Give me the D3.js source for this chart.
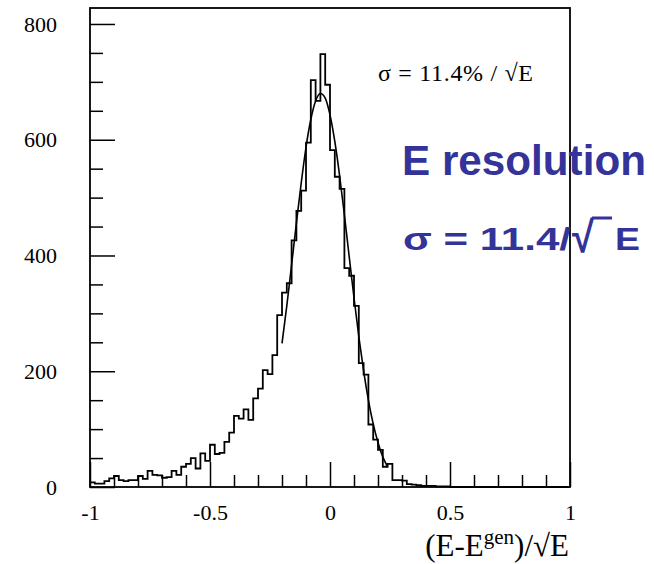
<!DOCTYPE html>
<html>
<head>
<meta charset="utf-8">
<script src="https://cdn.jsdelivr.net/npm/d3@7"></script>
<style>
  html, body { margin: 0; padding: 0; background: #fff; }
  svg { display: block; }
</style>
</head>
<body>
<div id="chart"></div>
<script>
// ---- data ----
const binStart = -1.0;
const binWidth = 0.02;
const counts = [
  8, 6, 6, 10, 15, 19, 12, 10, 12, 12,
  19, 14, 28, 21, 20, 16, 17, 28, 21, 35,
  40, 50, 32, 58, 45, 73, 57, 59, 78, 94,
  123, 118, 134, 116, 153, 170, 202, 195, 228, 297,
  336, 352, 426, 477, 512, 595, 703, 667, 748, 695,
  582, 536, 515, 378, 365, 313, 214, 194, 108, 82,
  64, 35, 40, 12, 12, 11, 5, 4, 3, 2,
  2, 2, 1, 1, 1, 0, 0, 0, 0, 0,
  0, 0, 0, 0, 0, 0, 0, 0, 0, 0,
  0, 0, 0, 0, 0, 0, 0, 0, 0, 0
];
// fitted curve
const fitX = [-0.20, -0.18, -0.16, -0.14, -0.12, -0.10, -0.08, -0.06, -0.04, -0.02,
              0.00, 0.02, 0.04, 0.06, 0.08, 0.10, 0.12, 0.14, 0.16, 0.18, 0.20, 0.22, 0.24];
const fitY = [248, 313, 384, 456, 525, 587, 635, 667, 680, 672,
              643, 597, 538, 470, 398, 327, 260, 201, 150, 109, 77, 52, 35];
const xMajorTicks = [-1, -0.5, 0, 0.5, 1];
const xMajorLabels = ["-1", "-0.5", "0", "0.5", "1"];
const xMinorTicks = [-0.9, -0.8, -0.7, -0.6, -0.4, -0.3, -0.2, -0.1, 0.1, 0.2, 0.3, 0.4, 0.6, 0.7, 0.8, 0.9];
const yMajorTicks = [0, 200, 400, 600, 800];
const yMajorLabels = ["0", "200", "400", "600", "800"];
const yMinorTicks = [50, 100, 150, 250, 300, 350, 450, 500, 550, 650, 700, 750];
const xDomain = [-1, 1];
const yDomain = [0, 827.6];

// ---- layout ----
const W = 654, H = 564;
const pLeft = 90, pRight = 570, pTop = 8, pBottom = 487;
const svg = d3.select("#chart").append("svg").attr("width", W).attr("height", H);

const x = d3.scaleLinear().domain(xDomain).range([pLeft, pRight]);
const y = d3.scaleLinear().domain(yDomain).range([pBottom, pTop]);

const serif = "'Liberation Serif', 'Times New Roman', serif";
const sans = "'Liberation Sans', Arial, sans-serif";

// histogram step path
const stepPts = [];
counts.forEach((c, i) => {
  const x0 = binStart + i * binWidth, x1 = x0 + binWidth;
  stepPts.push([x0, c], [x1, c]);
});
stepPts.push([binStart + counts.length * binWidth, 0]);
svg.append("path")
  .datum(stepPts)
  .attr("d", d3.line().x(d => x(d[0])).y(d => y(d[1])))
  .attr("fill", "none").attr("stroke", "#000").attr("stroke-width", 1.8)
  .attr("stroke-linejoin", "miter");

// fit curve
const fitPts = fitX.map((v, i) => [v, fitY[i]]);
svg.append("path")
  .datum(fitPts)
  .attr("d", d3.line().x(d => x(d[0])).y(d => y(d[1])).curve(d3.curveMonotoneX))
  .attr("fill", "none").attr("stroke", "#000").attr("stroke-width", 1.6);

// axes
const gx = svg.append("g").attr("transform", `translate(0,${pBottom})`)
  .call(d3.axisBottom(x).tickValues(xMajorTicks).tickSize(-25).tickPadding(17)
        .tickFormat((d, i) => xMajorLabels[i]));
const gxm = svg.append("g").attr("transform", `translate(0,${pBottom})`)
  .call(d3.axisBottom(x).tickValues(xMinorTicks).tickSize(-12).tickFormat(""));
const gy = svg.append("g").attr("transform", `translate(${pLeft},0)`)
  .call(d3.axisLeft(y).tickValues(yMajorTicks).tickSize(-25).tickPadding(33)
        .tickFormat((d, i) => yMajorLabels[i]));
const gym = svg.append("g").attr("transform", `translate(${pLeft},0)`)
  .call(d3.axisLeft(y).tickValues(yMinorTicks).tickSize(-13).tickFormat(""));
[gx, gxm, gy, gym].forEach(g => {
  g.select(".domain").remove();
  g.selectAll(".tick line").attr("stroke", "#000").attr("stroke-width", 1.5);
  g.selectAll("text").attr("font-family", serif).attr("font-size", 22).attr("fill", "#000");
});

// frame
svg.append("rect").attr("x", pLeft).attr("y", pTop)
  .attr("width", pRight - pLeft).attr("height", pBottom - pTop)
  .attr("fill", "none").attr("stroke", "#000").attr("stroke-width", 1.8);

// x-axis title
const xt = svg.append("text").attr("x", 569).attr("y", 556)
  .attr("text-anchor", "end").attr("font-family", serif).attr("font-size", 31).attr("fill", "#000");
xt.append("tspan").text("(E-E");
xt.append("tspan").attr("font-size", 21).attr("dy", -12).text("gen");
xt.append("tspan").attr("dy", 12).text(")/\u221AE");

// annotation
svg.append("text").attr("x", 378).attr("y", 81)
  .attr("font-family", serif).attr("font-size", 24).attr("fill", "#000")
  .attr("textLength", 155).attr("lengthAdjust", "spacing")
  .text("\u03C3 = 11.4% / \u221AE");

// big blue labels
const blue = "#333399";
svg.append("text").attr("x", 402).attr("y", 175)
  .attr("font-family", sans).attr("font-weight", "bold").attr("font-size", 42)
  .attr("fill", blue).attr("textLength", 244).attr("lengthAdjust", "spacingAndGlyphs")
  .text("E resolution");
svg.append("text").attr("x", 403).attr("y", 250)
  .attr("font-family", sans).attr("font-weight", "bold").attr("font-size", 31)
  .attr("fill", blue).attr("textLength", 168).attr("lengthAdjust", "spacingAndGlyphs")
  .text("\u03C3 = 11.4/");
svg.append("text").attr("x", 572).attr("y", 252)
  .attr("font-family", sans).attr("font-weight", "bold").attr("font-size", 44)
  .attr("fill", blue).attr("textLength", 22).attr("lengthAdjust", "spacingAndGlyphs")
  .text("\u221A");
svg.append("line").attr("x1", 592).attr("x2", 612).attr("y1", 218).attr("y2", 218)
  .attr("stroke", blue).attr("stroke-width", 3);
svg.append("text").attr("x", 615).attr("y", 250)
  .attr("font-family", sans).attr("font-weight", "bold").attr("font-size", 31)
  .attr("fill", blue).attr("textLength", 25).attr("lengthAdjust", "spacingAndGlyphs")
  .text("E");
</script>
</body>
</html>
